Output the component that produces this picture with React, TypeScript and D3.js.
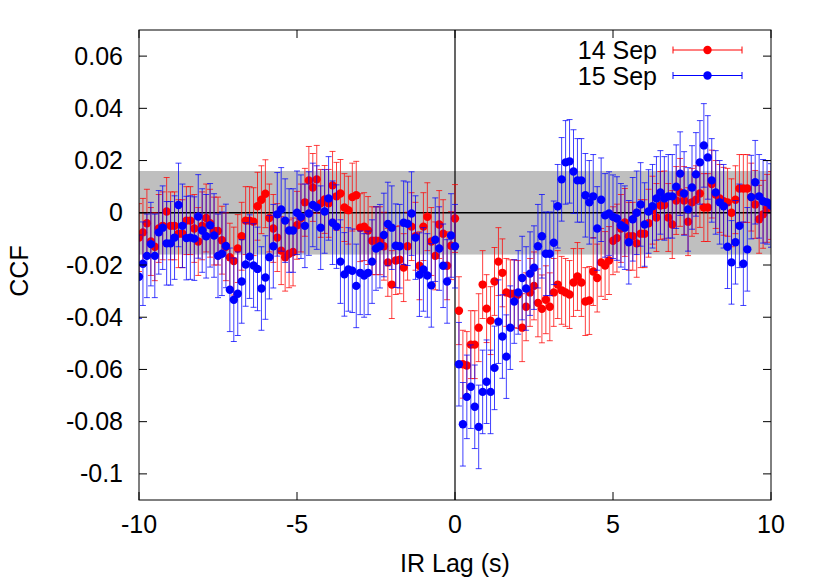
import React, { useRef, useEffect } from 'react';
import { select, scaleLinear } from 'd3';

// lag grid: one point every 0.125 s from -10 s
const lagStart = -10;
const lagStep = 0.125;

const seriesNames = ['14 Sep', '15 Sep'];
const seriesColors = ['#ff0000', '#0000ff'];

const sep14 = [
  -0.0095, -0.0075, -0.004, -0.011, -0.013, -0.006, -0.005, 0.0005, -0.005, -0.005,
  -0.008, -0.008, -0.003, -0.003, -0.006, -0.011, -0.005, -0.002, -0.004, -0.007,
  -0.007, -0.0105, -0.013, -0.017, -0.0185, -0.0137, -0.009, -0.003, -0.003, -0.0034,
  0.0025, 0.005, 0.0073, -0.002, -0.006, -0.0095, -0.0145, -0.017, -0.0157, -0.015,
  -0.0048, -0.002, 0.004, 0.0124, 0.0097, 0.0128, 0.0036, 0.0051, 0.0036, 0.0105,
  0.0063, 0.0074, 0.002, 0.001, 0.006, 0.0067, -0.0057, -0.0053, -0.0068, -0.0107,
  -0.0107, -0.0107, -0.0128, -0.019, -0.0275, -0.0183, -0.018, -0.021, -0.0128, -0.0053,
  -0.009, -0.0203, -0.0053, -0.0015, -0.011, -0.0165, -0.0045, -0.008, -0.0203, -0.0126,
  -0.0022, -0.0375, -0.058, -0.0585, -0.0505, -0.0505, -0.044, -0.0275, -0.0367, -0.0413,
  -0.0263, -0.0187, -0.023, -0.0305, -0.031, -0.031, -0.0313, -0.044, -0.036, -0.0305,
  -0.028, -0.0345, -0.0368, -0.0333, -0.036, -0.0305, -0.0275, -0.0297, -0.0305, -0.0313,
  -0.0267, -0.0244, -0.0267, -0.034, -0.0336, -0.0225, -0.025, -0.019, -0.0202, -0.0183,
  -0.0107, -0.0097, -0.006, -0.0037, -0.009, -0.009, -0.0117, -0.008, -0.008, -0.004,
  0.001, -0.0018, 0.0028, 0.003, -0.0018, -0.0045, 0.0047, 0.0078, 0.0047, -0.0034,
  0.004, 0.005, 0.0074, 0.002, 0.002, 0.011, 0.007, 0.0055, 0.0044, 0.004,
  0, 0.005, 0.0093, 0.0093, 0.0093, 0.006, 0.0032, -0.0025, -0.0006, 0.0017,
  0.0028,
];

const sep15 = [
  -0.0245, -0.0195, -0.0165, -0.012, -0.0165, -0.0075, -0.0057, -0.0117, -0.0117, -0.0095,
  0.003, -0.005, -0.0097, -0.0095, -0.0099, -0.0014, -0.0068, -0.009, -0.0048, -0.0087,
  -0.0165, -0.0157, -0.0127, -0.0295, -0.0333, -0.031, -0.0263, -0.0198, -0.0168, -0.0202,
  -0.0215, -0.029, -0.0248, -0.017, -0.0128, -0.0006, 0.0013, -0.003, -0.0068, -0.0068,
  0, -0.0015, -0.005, -0.0003, 0.003, 0.002, -0.0057, 0.0005, 0.0055, -0.0038,
  -0.0053, -0.0187, -0.0236, -0.0217, -0.0222, -0.028, -0.023, -0.024, -0.023, -0.0187,
  -0.0137, -0.0128, -0.0085, -0.0043, -0.0057, -0.0126, -0.0128, -0.0038, -0.0042, -0.0003,
  -0.0095, -0.0237, -0.0217, -0.024, -0.0278, -0.0103, -0.0137, -0.0203, -0.0263, -0.0087,
  -0.0128, -0.058, -0.081, -0.0705, -0.0666, -0.0743, -0.082, -0.0686, -0.0647, -0.0686,
  -0.0594, -0.0417, -0.0474, -0.0551, -0.044, -0.034, -0.0305, -0.025, -0.029, -0.0233,
  -0.021, -0.0128, -0.009, -0.0157, -0.0157, -0.0115, 0.0025, 0.0128, 0.0193, 0.0197,
  0.0158, 0.0124, 0.0124, 0.0067, 0.004, 0.0063, -0.006, 0.005, -0.001, -0.0003,
  -0.0015, -0.0022, -0.0048, -0.0057, -0.0113, -0.0025, 0, 0.0032, -0.0045, 0.0005,
  0.0025, 0.0055, 0.0078, 0.0055, 0.0063, 0.0063, 0.01, 0.015, 0.0074, 0.0013,
  0.0097, 0.0147, 0.0193, 0.0258, 0.0212, 0.0124, 0.0078, 0.004, 0.0025, -0.013,
  -0.019, -0.0113, -0.005, -0.0195, -0.014, 0.006, 0.0117, 0.0063, 0.0044, 0.004,
  0.0028,
];

const seriesErrors = [0.013, 0.016];
const noiseLevel = 0.016;

const xTicks = [-10, -5, 0, 5, 10];
const yTicks = [-0.1, -0.08, -0.06, -0.04, -0.02, 0, 0.02, 0.04, 0.06];
const yTickLabels = ['-0.1', '-0.08', '-0.06', '-0.04', '-0.02', '0', '0.02', '0.04', '0.06'];

const FONT = "'Liberation Sans', Arial, sans-serif";

function App() {
  const svgRef = useRef(null);

  useEffect(() => {
    const svg = select(svgRef.current);
    svg.selectAll('*').remove();

    const left = 139, right = 771, top = 30, bottom = 500;
    const x = scaleLinear().domain([-10, 10]).range([left, right]);
    const y = scaleLinear().domain([-0.11, 0.07]).range([bottom, top]);

    svg.append('clipPath').attr('id', 'plotclip')
      .append('rect')
      .attr('x', left).attr('y', top)
      .attr('width', right - left).attr('height', bottom - top);

    // noise band
    svg.append('rect')
      .attr('x', left).attr('y', y(noiseLevel))
      .attr('width', right - left).attr('height', y(-noiseLevel) - y(noiseLevel))
      .attr('fill', '#bfbfbf');

    svg.append('line')
      .attr('x1', left).attr('x2', right)
      .attr('y1', y(0)).attr('y2', y(0))
      .attr('stroke', '#000').attr('stroke-width', 1.5);
    svg.append('line')
      .attr('x1', x(0)).attr('x2', x(0))
      .attr('y1', top).attr('y2', bottom)
      .attr('stroke', '#000').attr('stroke-width', 1.2);

    const plot = svg.append('g').attr('clip-path', 'url(#plotclip)');
    [sep14, sep15].forEach((vals, s) => {
      const err = seriesErrors[s];
      const color = seriesColors[s];
      const pts = vals.map((v, i) => ({ lag: lagStart + i * lagStep, v }));
      const g = plot.append('g');
      const bars = g.selectAll('g.bar').data(pts).enter().append('g')
        .attr('stroke', color).attr('stroke-width', 1).attr('stroke-opacity', 0.75);
      bars.append('line')
        .attr('x1', (d) => x(d.lag)).attr('x2', (d) => x(d.lag))
        .attr('y1', (d) => y(d.v - err)).attr('y2', (d) => y(d.v + err));
      bars.append('line')
        .attr('x1', (d) => x(d.lag) - 3).attr('x2', (d) => x(d.lag) + 3)
        .attr('y1', (d) => y(d.v - err)).attr('y2', (d) => y(d.v - err));
      bars.append('line')
        .attr('x1', (d) => x(d.lag) - 3).attr('x2', (d) => x(d.lag) + 3)
        .attr('y1', (d) => y(d.v + err)).attr('y2', (d) => y(d.v + err));
      g.selectAll('circle').data(pts).enter().append('circle')
        .attr('cx', (d) => x(d.lag)).attr('cy', (d) => y(d.v))
        .attr('r', 4.2).attr('fill', color);
    });

    // frame and ticks
    svg.append('rect')
      .attr('x', left).attr('y', top)
      .attr('width', right - left).attr('height', bottom - top)
      .attr('fill', 'none').attr('stroke', '#000').attr('stroke-width', 1);

    const ticks = svg.append('g').attr('stroke', '#000').attr('stroke-width', 1);
    yTicks.forEach((t) => {
      ticks.append('line').attr('x1', left).attr('x2', left + 8).attr('y1', y(t)).attr('y2', y(t));
      ticks.append('line').attr('x1', right - 8).attr('x2', right).attr('y1', y(t)).attr('y2', y(t));
    });
    xTicks.forEach((t) => {
      ticks.append('line').attr('x1', x(t)).attr('x2', x(t)).attr('y1', bottom).attr('y2', bottom - 8);
      ticks.append('line').attr('x1', x(t)).attr('x2', x(t)).attr('y1', top).attr('y2', top + 8);
    });

    const labels = svg.append('g')
      .attr('font-family', FONT).attr('font-size', 25).attr('fill', '#000');
    yTicks.forEach((t, i) => {
      labels.append('text')
        .attr('x', 123).attr('y', y(t) + 8.5)
        .attr('text-anchor', 'end')
        .text(yTickLabels[i]);
    });
    xTicks.forEach((t) => {
      labels.append('text')
        .attr('x', x(t)).attr('y', 533)
        .attr('text-anchor', 'middle')
        .text(String(t));
    });
    labels.append('text')
      .attr('x', x(0)).attr('y', 572)
      .attr('text-anchor', 'middle')
      .text('IR Lag (s)');
    labels.append('text')
      .attr('transform', 'translate(28,271) rotate(-90)')
      .attr('text-anchor', 'middle')
      .text('CCF');

    // legend
    seriesNames.forEach((name, s) => {
      const ly = 50 + s * 25.5;
      const color = seriesColors[s];
      labels.append('text')
        .attr('x', 657).attr('y', ly + 9)
        .attr('text-anchor', 'end')
        .text(name);
      const lg = svg.append('g').attr('stroke', color).attr('stroke-width', 1);
      lg.append('line').attr('x1', 673).attr('x2', 742).attr('y1', ly).attr('y2', ly);
      lg.append('line').attr('x1', 673).attr('x2', 673).attr('y1', ly - 3.5).attr('y2', ly + 3.5);
      lg.append('line').attr('x1', 742).attr('x2', 742).attr('y1', ly - 3.5).attr('y2', ly + 3.5);
      svg.append('circle').attr('cx', 707.5).attr('cy', ly).attr('r', 4.2).attr('fill', color);
    });
  }, []);

  return (
    <div style={{ position: 'absolute', left: 0, top: 0 }}>
      <svg ref={svgRef} width={830} height={581} style={{ display: 'block', background: '#fff' }} />
    </div>
  );
}

export default App;
